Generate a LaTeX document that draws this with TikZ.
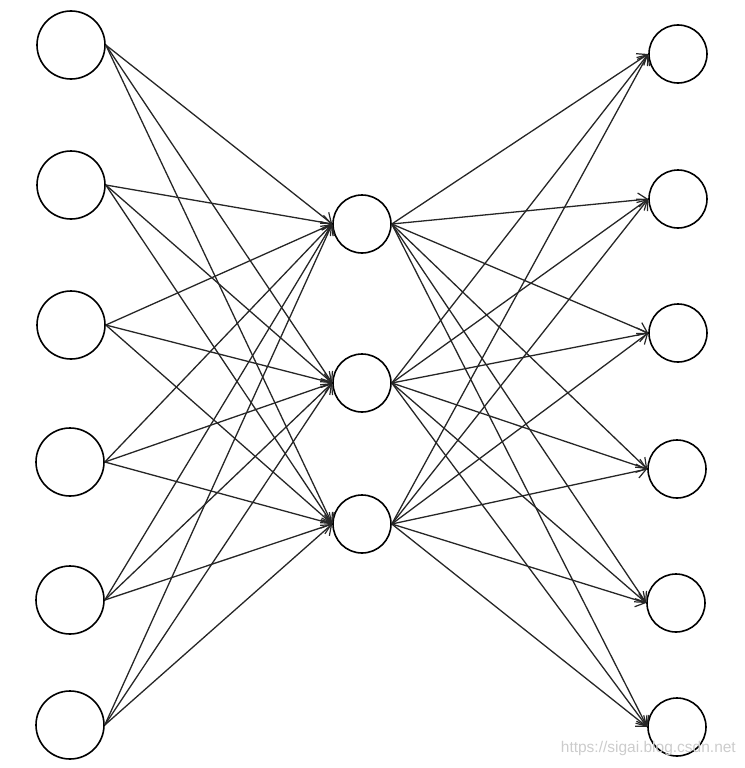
\documentclass[tikz,border=0pt]{standalone}
\usepackage{fontspec}
\setmainfont{Liberation Sans}
\usetikzlibrary{arrows.meta}
\begin{document}
\begin{tikzpicture}[x=1pt,y=-1pt,
  inp/.style={circle,draw,line width=1.6pt,minimum size=68pt,inner sep=0pt},
  hid/.style={circle,draw,line width=1.6pt,minimum size=58pt,inner sep=0pt},
  outp/.style={circle,draw,line width=1.6pt,minimum size=58pt,inner sep=0pt},
  conn/.style={line width=1.3pt,draw=black!85,-{Straight Barb[length=9pt,width=14pt,line width=1.2pt]}},
  wm/.style={text=black!20,font=\fontsize{15.5pt}{17pt}\selectfont,inner sep=0pt}]
\useasboundingbox (0,0) rectangle (744,768);
% input layer
\node[inp] (i1) at (71,45) {};
\node[inp] (i2) at (71,185) {};
\node[inp] (i3) at (71,325) {};
\node[inp] (i4) at (70,462) {};
\node[inp] (i5) at (70,600) {};
\node[inp] (i6) at (70,725) {};
% hidden layer
\node[hid] (h1) at (362,224) {};
\node[hid] (h2) at (362,383) {};
\node[hid] (h3) at (362,524) {};
% output layer
\node[outp] (o1) at (678,54) {};
\node[outp] (o2) at (678,199) {};
\node[outp] (o3) at (678,333) {};
\node[outp] (o4) at (677,469) {};
\node[outp] (o5) at (676,603) {};
\node[outp] (o6) at (677,727) {};
% connections
\foreach \i in {1,...,6}{
  \foreach \h in {1,2,3}{
    \draw[conn] (i\i.east) -- (h\h.west);
  }
}
\foreach \h in {1,2,3}{
  \foreach \o in {1,...,6}{
    \draw[conn] (h\h.east) -- (o\o.west);
  }
}
\node[wm,anchor=east] (wmark) at (736,748) {https://sigai.blog.csdn.net};
\end{tikzpicture}
\end{document}
